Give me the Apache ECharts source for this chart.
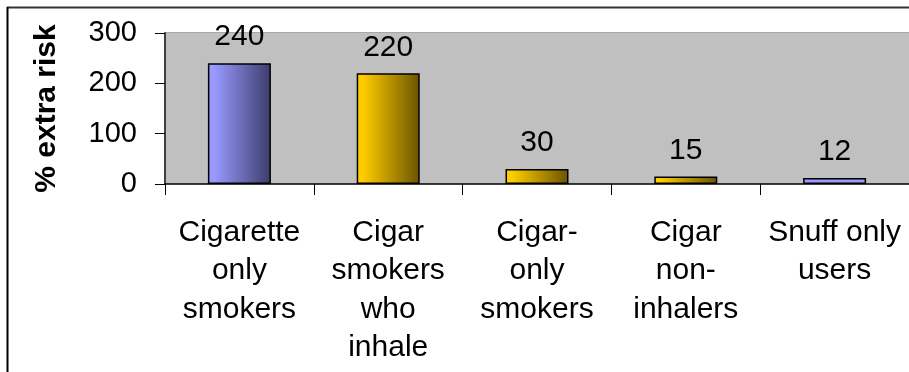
<!DOCTYPE html>
<html>
<head>
<meta charset="utf-8">
<script src="https://cdn.jsdelivr.net/npm/echarts@6/dist/echarts.min.js"></script>
<style>
html,body{margin:0;padding:0;background:#fff;}
#c{width:909px;height:372px;}
</style>
</head>
<body>
<div id="c"></div>
<script>
var categories = ["Cigarette\nonly\nsmokers", "Cigar\nsmokers\nwho\ninhale", "Cigar-\nonly\nsmokers", "Cigar\nnon-\ninhalers", "Snuff only\nusers"];
var values = [240, 220, 30, 15, 12];
var yTicks = [0, 100, 200, 300];
var yTitle = "% extra risk";

var FONT = '"Liberation Sans", Arial, sans-serif';
function grad(a, b) {
  return new echarts.graphic.LinearGradient(0, 0, 1, 0, [
    {offset: 0, color: a}, {offset: 0.1, color: a}, {offset: 1, color: b}
  ]);
}
var fills = [
  grad('#9999FF', '#3C3C6C'),
  grad('#FFCC00', '#6A5300'),
  grad('#FFCC00', '#6A5300'),
  grad('#FFCC00', '#6A5300'),
  '#9999FF'
];

var chart = echarts.init(document.getElementById('c'), null, {renderer: 'canvas'});
chart.setOption({
  animation: false,
  backgroundColor: '#ffffff',
  grid: {
    left: 165, right: 0, top: 33, bottom: 188,
    show: true, backgroundColor: '#C0C0C0', borderWidth: 0
  },
  graphic: [
    {type: 'line', shape: {x1: 7, y1: 7.5, x2: 909, y2: 7.5}, style: {stroke: '#333', lineWidth: 2}},
    {type: 'line', shape: {x1: 7.5, y1: 7, x2: 7.5, y2: 372}, style: {stroke: '#000', lineWidth: 2}},
    {type: 'line', shape: {x1: 165, y1: 32.5, x2: 909, y2: 32.5}, style: {stroke: '#A8A8A8', lineWidth: 1}}
  ],
  xAxis: {
    type: 'category',
    data: categories,
    boundaryGap: true,
    axisLine: {show: true, lineStyle: {color: '#000', width: 1.5}},
    axisTick: {show: true, length: 11, lineStyle: {color: '#000', width: 1}},
    axisLabel: {
      color: '#000', fontFamily: FONT, fontSize: 30, lineHeight: 38.5,
      margin: 29, interval: 0, align: 'center'
    },
    splitLine: {show: false}
  },
  yAxis: {
    type: 'value',
    min: yTicks[0], max: yTicks[yTicks.length - 1], interval: 100,
    name: yTitle,
    nameLocation: 'middle',
    nameGap: 103,
    nameTextStyle: {color: '#000', fontFamily: FONT, fontSize: 30, fontWeight: 'bold'},
    axisLine: {show: true, lineStyle: {color: '#404040', width: 2}},
    axisTick: {show: true, length: 10, lineStyle: {color: '#000', width: 1}},
    axisLabel: {color: '#000', fontFamily: FONT, fontSize: 29, margin: 28},
    splitLine: {show: false}
  },
  series: [{
    type: 'bar',
    barWidth: 63,
    data: values.map(function (v, i) {
      return {value: v, itemStyle: {color: fills[i], borderColor: '#000', borderWidth: 1.5}};
    }),
    label: {
      show: true, position: 'top', distance: 11,
      color: '#000', fontFamily: FONT, fontSize: 30
    }
  }]
});
</script>
</body>
</html>
